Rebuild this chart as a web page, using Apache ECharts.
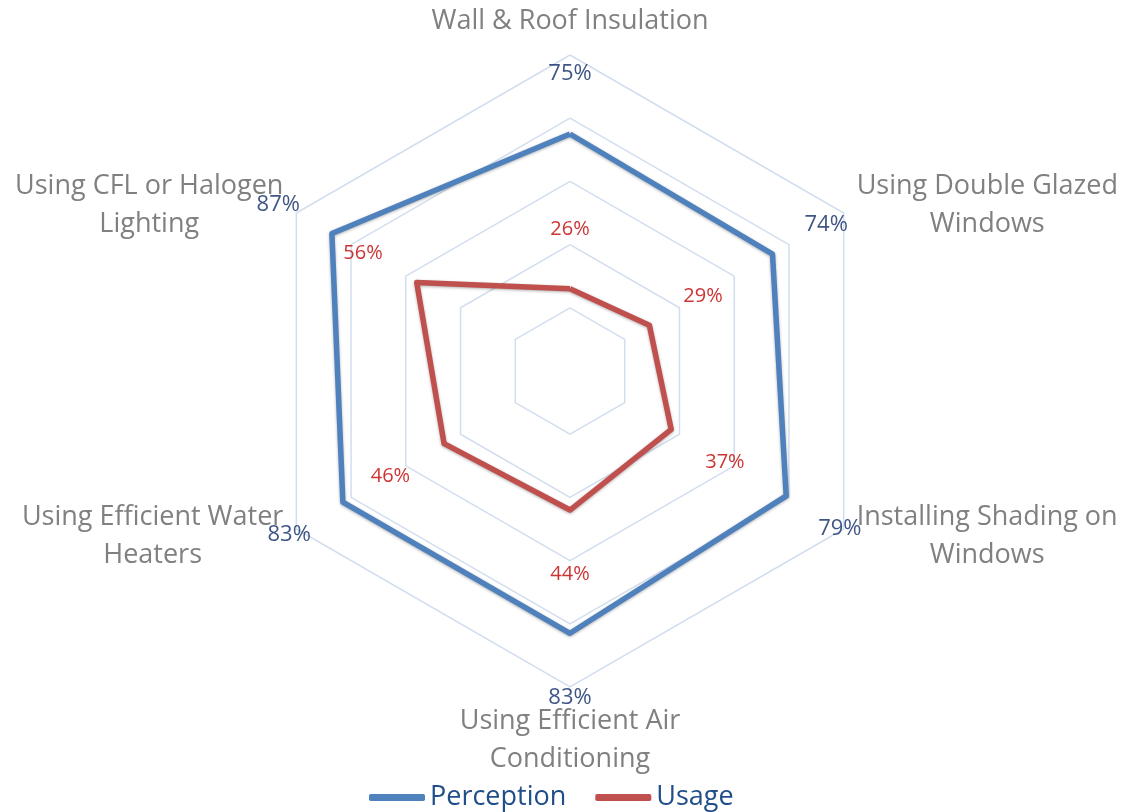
<!DOCTYPE html>
<html>
<head>
<meta charset="utf-8">
<script src="https://cdn.jsdelivr.net/npm/echarts@6/dist/echarts.min.js"></script>
<style>
  html, body { margin: 0; padding: 0; background: #fff; }
  #chart { width: 1126px; height: 812px; }
</style>
</head>
<body>
<div id="chart"></div>
<script>
// clockwise from the top, as in the picture
const categories = [
  'Wall & Roof Insulation',
  'Using Double Glazed\nWindows',
  'Installing Shading on\nWindows',
  'Using Efficient Air\nConditioning',
  'Using Efficient Water\nHeaters',
  'Using CFL or Halogen\nLighting'
]
const perception = [75, 74, 79, 83, 83, 87]
const usage = [26, 29, 37, 44, 46, 56]
const seriesNames = ['Perception', 'Usage']

const CENTER = [570, 371]
const RADIUS = 316
const LABEL_GAP = 62
const FONT = '"Open Sans", Lato, sans-serif'
const BLUE = '#4F81BD'
const RED = '#C0504D'

// radar lays indicators out counter-clockwise, so walk the list backwards after the first
const order = categories.map((_, i) => (categories.length - i) % categories.length)
const reorder = arr => order.map(i => arr[i])

const chart = echarts.init(document.getElementById('chart'))

const lineSeries = (name, vals, color) => ({
  name: name,
  type: 'radar',
  symbol: 'none',
  silent: true,
  itemStyle: { color: color },
  lineStyle: {
    color: color,
    width: 5.5,
    shadowBlur: 3,
    shadowColor: 'rgba(0,0,0,0.3)',
    shadowOffsetY: 1
  },
  data: [{ name: name, value: reorder(vals) }]
})

// value labels sit a fixed distance outward from each vertex
const labelSeries = (vals, color, size) => ({
  type: 'scatter',
  coordinateSystem: 'polar',
  symbolSize: 1,
  silent: true,
  itemStyle: { color: 'transparent' },
  data: vals.map((v, i) => {
    const a = i * Math.PI * 2 / vals.length
    return {
      value: [v, i],
      label: { offset: [LABEL_GAP * Math.sin(a), -LABEL_GAP * Math.cos(a) + 2] }
    }
  }),
  label: {
    show: true,
    position: 'inside',
    formatter: p => p.value[0] + '%',
    color: color,
    fontSize: size,
    fontFamily: FONT
  }
})

const option = {
  backgroundColor: '#fff',
  animation: false,
  legend: {
    data: seriesNames,
    left: 364,
    top: 779,
    icon: 'roundRect',
    itemWidth: 56,
    itemHeight: 7,
    itemGap: 29,
    textStyle: { color: '#1F4E89', fontSize: 27, fontFamily: FONT }
  },
  radar: {
    center: CENTER,
    radius: RADIUS,
    startAngle: 90,
    splitNumber: 5,
    shape: 'polygon',
    axisNameGap: 15,
    indicator: reorder(categories).map(c => ({ name: c, min: 0, max: 100 })),
    axisName: {
      color: '#808080',
      fontSize: 27,
      fontFamily: FONT,
      formatter: name => name.split('\n').map(s => '{c|' + s + '}').join('\n'),
      rich: {
        c: { align: 'center', color: '#808080', fontSize: 27, fontFamily: FONT, lineHeight: 38 }
      }
    },
    axisLine: { show: false },
    splitArea: { show: false },
    splitLine: { lineStyle: { color: '#D2DEEE', width: 1.5 } }
  },
  polar: { center: CENTER, radius: RADIUS },
  angleAxis: {
    type: 'category',
    data: categories.map((_, i) => i),
    boundaryGap: false,
    startAngle: 90,
    clockwise: true,
    show: false
  },
  radiusAxis: { min: 0, max: 100, show: false },
  series: [
    lineSeries(seriesNames[0], perception, BLUE),
    lineSeries(seriesNames[1], usage, RED),
    labelSeries(perception, '#0F2A66', 22),
    labelSeries(usage, '#C00000', 20)
  ]
}

chart.setOption(option)
</script>
</body>
</html>
